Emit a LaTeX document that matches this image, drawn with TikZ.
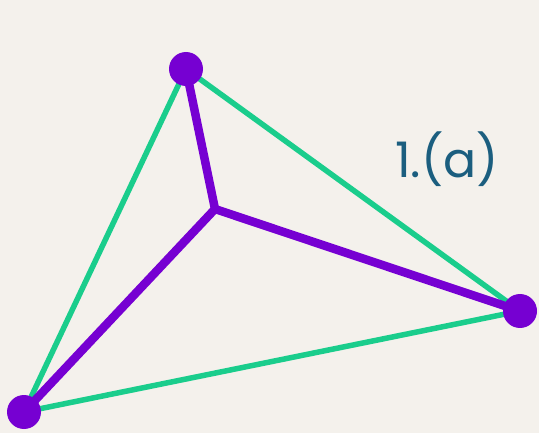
\documentclass[tikz,border=0pt]{standalone}
\usepackage{fontspec}
\setmainfont{Poppins}
\definecolor{bgcol}{HTML}{F4F1EC}
\definecolor{edgegreen}{HTML}{1ACD8C}
\definecolor{hubpurple}{HTML}{7600D2}
\definecolor{labelblue}{HTML}{1B5E7F}
\begin{document}
\begin{tikzpicture}[
        x=1pt, y=-1pt,
        vertex/.style={circle, fill=hubpurple, inner sep=0pt, minimum size=34pt},
        hub/.style={coordinate},
        outer/.style={line width=5.5pt, edgegreen},
        spoke/.style={line width=8.5pt, hubpurple}
    ]
        \fill[bgcol] (0,0) rectangle (539,433);
        \useasboundingbox (0,0) rectangle (539,433);
        
        % === Points ===
        \node[hub] (H) at (215,209) {};
        \coordinate (T) at (186,69);
        \coordinate (R) at (520,311);
        \coordinate (L) at (24,412);
        
        % === Triangle ===
        \draw[outer] (T) -- (R) -- (L) -- cycle;
        
        % === Spokes ===
        \draw[spoke] (H) -- (T); \draw[spoke] (H) -- (R); \draw[spoke] (H) -- (L);
        
        \node[vertex] (VT) at (T) {};
        \node[vertex] (VR) at (R) {};
        \node[vertex] (VL) at (L) {};
        
        \node[text=labelblue, font=\fontsize{49}{54}\selectfont, anchor=base] (lab) at (447,178) {1.(a)};
    \end{tikzpicture}
\end{document}
